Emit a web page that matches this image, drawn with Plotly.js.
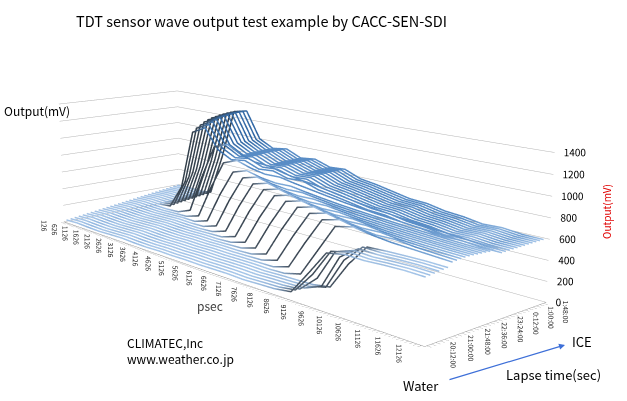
<!DOCTYPE html>
<html>
<head>
<meta charset="utf-8">
<script src="https://cdn.plot.ly/plotly-3.0.1.min.js"></script>
<style>
  html, body { margin: 0; padding: 0; background: #fff; width: 627px; height: 401px; overflow: hidden; position: relative; }
  #chart { position: absolute; }
</style>
</head>
<body>
<div id="chart"></div>
<script>
// psec sample positions (also the tick labels on the front axis)
var psec = [126, 626, 1126, 1626, 2126, 2626, 3126, 3626, 4126, 4626, 5126, 5626,
            6126, 6626, 7126, 7626, 8126, 8626, 9126, 9626, 10126, 10626, 11126, 11626, 12126];

// one wave every 12 minutes
var timeLabels = ['20:12:00', '20:24:00', '20:36:00', '20:48:00', '21:00:00', '21:12:00',
                  '21:24:00', '21:36:00', '21:48:00', '22:00:00', '22:12:00', '22:24:00',
                  '22:36:00', '22:48:00', '23:00:00', '23:12:00', '23:24:00', '23:36:00',
                  '23:48:00', '0:00:00', '0:12:00', '0:24:00', '0:36:00', '0:48:00',
                  '1:00:00', '1:12:00', '1:24:00', '1:36:00', '1:48:00', '2:00:00'];

var zTicks = [0, 200, 400, 600, 800, 1000, 1200, 1400];

// output (mV) of each wave
// water
var w2012 = [20, 28, 22, 18, 25, 30, 24, 22, 28, 26, 30, 28, 32, 35, 30, 38, 45, 70, 300, 540, 575, 570, 580, 585, 580];
var w2024 = [26, 34, 28, 24, 30, 36, 30, 28, 33, 31, 36, 34, 38, 40, 36, 44, 50, 75, 280, 545, 585, 575, 585, 590, 585];
var w2036 = [32, 40, 34, 30, 36, 42, 36, 34, 39, 37, 42, 40, 44, 46, 42, 50, 56, 72, 230, 530, 590, 580, 590, 595, 590];
var w2048 = [39, 47, 41, 37, 43, 49, 43, 41, 46, 44, 49, 47, 51, 53, 49, 57, 62, 70, 140, 470, 595, 590, 598, 600, 595];
var w2100 = [45, 53, 47, 43, 49, 55, 49, 47, 52, 50, 55, 53, 57, 59, 55, 63, 68, 75, 120, 430, 600, 595, 602, 605, 600];
var w2112 = [51, 59, 53, 49, 55, 61, 55, 53, 58, 56, 61, 59, 63, 65, 61, 69, 74, 80, 110, 380, 590, 600, 605, 608, 604];
// freezing
var w2124 = [57, 65, 59, 55, 61, 67, 61, 59, 64, 62, 67, 65, 69, 71, 68, 75, 120, 400, 680, 720, 690, 670, 660, 650, 640];
var w2136 = [63, 71, 65, 61, 67, 73, 67, 65, 70, 68, 73, 71, 75, 77, 80, 130, 420, 690, 735, 700, 680, 685, 665, 655, 645];
var w2148 = [70, 78, 72, 68, 74, 80, 74, 72, 77, 75, 80, 78, 82, 88, 135, 430, 700, 745, 710, 690, 695, 675, 665, 655, 648];
var w2200 = [76, 84, 78, 74, 80, 86, 80, 78, 83, 81, 86, 84, 92, 140, 440, 710, 755, 720, 700, 705, 685, 672, 662, 655, 650];
var w2212 = [82, 90, 84, 80, 86, 92, 86, 84, 89, 87, 92, 98, 145, 450, 720, 765, 730, 710, 715, 695, 680, 670, 662, 655, 650];
var w2224 = [88, 96, 90, 86, 92, 98, 92, 90, 95, 93, 102, 150, 460, 730, 775, 740, 720, 725, 705, 690, 678, 668, 660, 652, 648];
var w2236 = [94, 102, 96, 92, 98, 104, 98, 96, 101, 106, 155, 470, 745, 790, 755, 735, 740, 720, 700, 688, 676, 665, 656, 650, 645];
var w2248 = [100, 108, 102, 98, 104, 110, 104, 102, 110, 160, 480, 760, 805, 770, 750, 755, 735, 715, 700, 686, 674, 664, 655, 648, 642];
var w2300 = [107, 115, 109, 105, 111, 117, 111, 115, 165, 495, 780, 825, 790, 770, 775, 752, 730, 714, 700, 686, 673, 662, 652, 645, 640];
var w2312 = [113, 121, 115, 111, 117, 123, 120, 170, 510, 800, 850, 810, 790, 795, 770, 748, 728, 712, 698, 684, 671, 660, 650, 642, 636];
var w2324 = [119, 127, 121, 117, 123, 128, 175, 540, 860, 920, 870, 840, 845, 815, 790, 765, 742, 722, 705, 690, 676, 664, 652, 644, 636];
var w2336 = [125, 133, 127, 123, 130, 190, 620, 1000, 1060, 980, 930, 920, 880, 850, 830, 800, 770, 745, 725, 705, 688, 672, 658, 646, 636];
// ice
var w2348 = [132, 140, 134, 150, 420, 1100, 1180, 960, 880, 905, 845, 860, 815, 825, 770, 745, 715, 685, 675, 645, 630, 605, 612, 595, 592];
var w0000 = [138, 146, 140, 160, 480, 1140, 1210, 975, 895, 920, 858, 872, 826, 836, 778, 752, 720, 690, 680, 648, 633, 607, 614, 597, 593];
var w0012 = [144, 152, 146, 168, 530, 1170, 1235, 988, 905, 930, 866, 880, 832, 843, 783, 757, 724, 693, 683, 650, 635, 608, 615, 598, 594];
var w0024 = [150, 158, 152, 175, 570, 1200, 1255, 995, 912, 938, 872, 887, 837, 848, 786, 760, 727, 695, 685, 651, 636, 609, 616, 598, 595];
var w0036 = [157, 165, 159, 182, 600, 1220, 1270, 1000, 918, 943, 876, 892, 841, 852, 789, 763, 729, 697, 686, 652, 637, 610, 617, 599, 595];
var w0048 = [163, 171, 165, 188, 625, 1235, 1282, 1003, 922, 947, 879, 896, 844, 855, 791, 765, 731, 698, 687, 653, 638, 610, 618, 599, 596];
var w0100 = [169, 177, 171, 194, 645, 1245, 1290, 1006, 925, 950, 881, 899, 846, 857, 792, 766, 732, 699, 688, 654, 638, 611, 618, 600, 596];
var w0112 = [175, 183, 177, 200, 660, 1255, 1298, 1008, 927, 952, 883, 901, 847, 859, 793, 767, 733, 699, 689, 654, 639, 611, 619, 600, 597];
var w0124 = [181, 189, 183, 206, 672, 1262, 1302, 1009, 928, 953, 884, 903, 848, 860, 794, 768, 734, 700, 689, 655, 639, 612, 619, 600, 597];
var w0136 = [187, 195, 189, 212, 682, 1268, 1305, 1010, 929, 954, 885, 904, 849, 861, 794, 769, 734, 700, 690, 655, 640, 612, 620, 600, 598];
var w0148 = [194, 202, 196, 218, 690, 1272, 1307, 1010, 930, 955, 885, 905, 850, 862, 795, 770, 735, 700, 690, 655, 640, 612, 620, 600, 598];
var w0200 = [200, 208, 202, 224, 698, 1275, 1308, 1010, 930, 955, 885, 905, 850, 862, 795, 770, 735, 700, 690, 655, 640, 612, 620, 600, 598];

var waves = [w2012, w2024, w2036, w2048, w2100, w2112, w2124, w2136, w2148, w2200,
             w2212, w2224, w2236, w2248, w2300, w2312, w2324, w2336, w2348, w0000,
             w0012, w0024, w0036, w0048, w0100, w0112, w0124, w0136, w0148, w0200];

// the plot is drawn on a larger canvas (so the camera can sit further away,
// like Excel's mild perspective) and the window shows part of it
var SCALE = 2.3;
var W = Math.round(627 * SCALE), H = Math.round(401 * SCALE);
var ORGX = -Math.round((W - 627) / 2) - 38;   // canvas origin inside the window
var ORGY = -Math.round((H - 401) / 2) - 8;
var el = document.getElementById('chart');
el.style.left = ORGX + 'px';
el.style.top = ORGY + 'px';

// ribbon shading: steep rise dark, flat light, falling steel blue
var shadeScale = [
    [0, '#2f66a3'],
    [0.3, '#5b8fc8'],
    [0.333, '#a9c8ea'],
    [0.366, '#8fb0d5'],
    [0.6, '#4b5866'],
    [1, '#34404c']
];

function slopes(v) {
    var out = [];
    for (var i = 0; i < v.length; i++) {
        var a = v[Math.max(i - 1, 0)], b = v[Math.min(i + 1, v.length - 1)];
        out.push((b - a) / 2);
    }
    return out;
}

var data = waves.map(function (w, s) {
    return {
        type: 'scatter3d',
        mode: 'lines',
        x: psec,
        y: psec.map(function () { return s; }),
        z: w,
        line: { color: slopes(w), colorscale: shadeScale, cmin: -150, cmax: 300, width: 3 },
        showlegend: false,
        hoverinfo: 'skip'
    };
});

var fam = 'Noto Sans CJK JP, sans-serif';

// z tick labels on the right-hand corner, as in the original
data.push({
    type: 'scatter3d',
    mode: 'text',
    x: zTicks.map(function () { return 12200; }),
    y: zTicks.map(function () { return 29.8; }),
    z: zTicks,
    text: zTicks.map(String),
    textposition: 'middle right',
    textfont: { family: fam, size: 10, color: '#000' },
    showlegend: false,
    hoverinfo: 'skip'
});

// minor ticks every 100 psec, labels every 500
var xTickVals = [], xTickText = [];
for (var p = 126; p <= 12126; p += 100) {
    xTickVals.push(p);
    xTickText.push(psec.indexOf(p) >= 0 ? String(p) : '');
}
var yTickVals = [], yTickText = [];
for (var i = 0; i < timeLabels.length; i++) {
    yTickVals.push(i);
    yTickText.push(i % 4 === 0 ? timeLabels[i] : '');
}

var axisFont = { family: fam, size: 9, color: '#222' };

function note(text, px, py, size, color, extra) {
    var a = { text: text, xref: 'paper', yref: 'paper',
              x: (px - ORGX) / W, y: 1 - (py - ORGY) / H,
              xanchor: 'center', yanchor: 'middle', showarrow: false,
              font: { family: fam, size: size, color: color || '#000' } };
    for (var k in (extra || {})) a[k] = extra[k];
    return a;
}

var layout = {
    width: W,
    height: H,
    margin: { l: 0, r: 0, t: 0, b: 0 },
    paper_bgcolor: '#fff',
    font: { family: fam, color: '#000' },
    showlegend: false,
    scene: {
        domain: { x: [0, 1], y: [0, 1] },
        aspectmode: 'manual',
        aspectratio: { x: 2.38, y: 0.73, z: 0.6 },
        camera: {
            eye: { x: 3.58, y: -3.223, z: 1.094 },
            center: { x: 0, y: 0, z: 0 },
            up: { x: 0, y: 0, z: 1 }
        },
        xaxis: {
            title: { text: '' },
            range: [100, 12200],
            tickmode: 'array', tickvals: xTickVals, ticktext: xTickText,
            tickangle: 90, tickfont: axisFont,
            ticks: 'outside', ticklen: 4, tickcolor: '#999',
            showline: true, linecolor: '#999',
            showgrid: false, zeroline: false, showbackground: false,
            showspikes: false
        },
        yaxis: {
            title: { text: '' },
            range: [-0.5, 29.8],
            tickmode: 'array', tickvals: yTickVals, ticktext: yTickText,
            tickangle: 90, tickfont: axisFont,
            ticks: 'outside', ticklen: 4, tickcolor: '#999',
            showline: true, linecolor: '#999',
            showgrid: false, zeroline: false, showbackground: false,
            showspikes: false
        },
        zaxis: {
            title: { text: '' },
            range: [0, 1400],
            tickmode: 'linear', tick0: 0, dtick: 200,
            showticklabels: false,
            ticks: '', showline: false,
            showgrid: true, gridcolor: '#b4b4b4', gridwidth: 1,
            zeroline: false, showbackground: false,
            showspikes: false
        }
    },
    annotations: [
        note('TDT sensor wave output test example by CACC-SEN-SDI', 261, 21, 14.5),
        note('Output(mV)', 2, 110, 12, '#000', { xanchor: 'left' }),
        note('Output(mV)', 607, 212, 10, '#e00000', { textangle: -90 }),
        note('psec', 210, 305, 12, '#404040'),
        note('CLIMATEC,Inc<br>www.weather.co.jp', 125, 350, 12, '#000', { xanchor: 'left', align: 'left' }),
        note('ICE', 582, 341, 13),
        note('Lapse time(sec)', 553, 374, 13),
        note('Water', 421, 385, 13),
        { text: '', xref: 'paper', yref: 'paper',
          x: (565 - ORGX) / W, y: 1 - (345 - ORGY) / H, ax: -117, ay: 35,
          showarrow: true, arrowhead: 2, arrowsize: 1, arrowwidth: 1.2, arrowcolor: '#3d6fd8' }
    ]
};

Plotly.newPlot('chart', data, layout, { displayModeBar: false }).catch(function (e) {
    document.body.insertAdjacentHTML('beforeend', '<pre>' + e + '</pre>');
});
</script>
</body>
</html>
